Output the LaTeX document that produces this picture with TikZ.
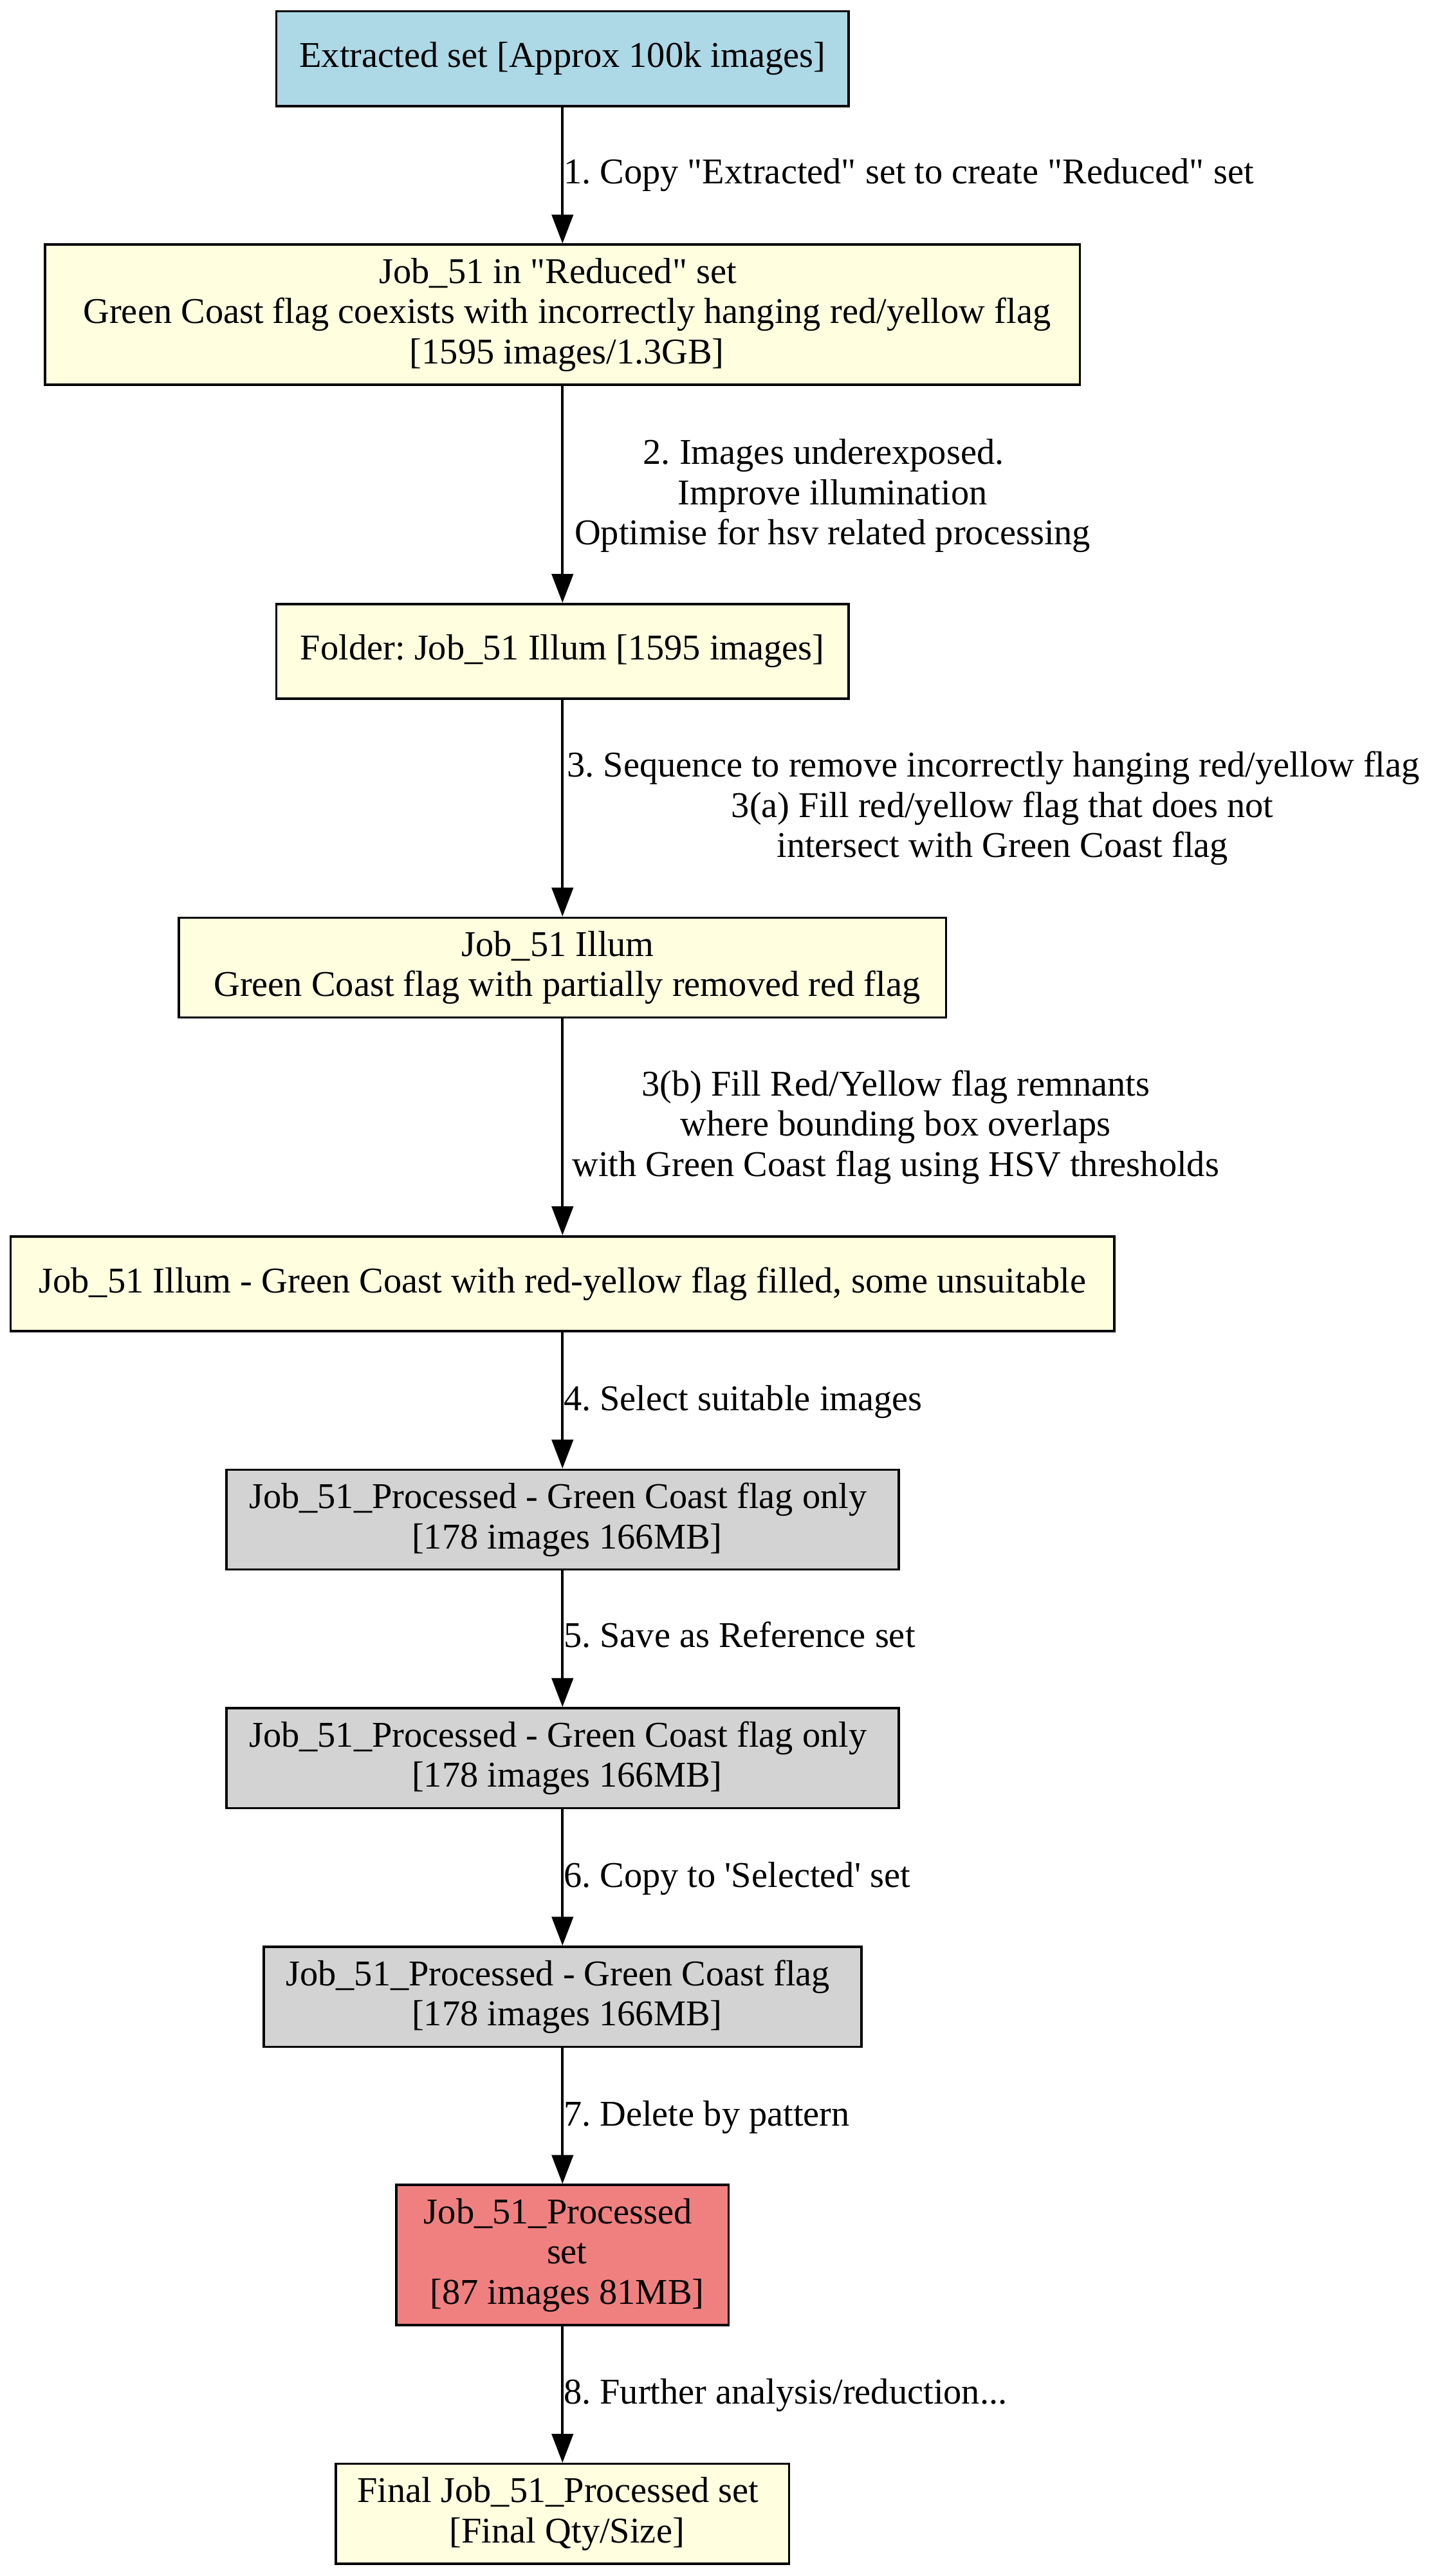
\documentclass[tikz,border=0pt]{standalone}
\usepackage{fontspec}
\newfontfamily\gvfont{Liberation Serif}
\usetikzlibrary{arrows.meta}
\definecolor{gvblue}{HTML}{ADD8E6}
\definecolor{gvyellow}{HTML}{FFFFE0}
\definecolor{gvgrey}{HTML}{D3D3D3}
\definecolor{gvcoral}{HTML}{F08080}
\newcommand{\gsp}{\hspace*{5.5pt}}
\frenchspacing
\begin{document}
\begin{tikzpicture}[x=1pt,y=-1pt,
  font=\gvfont\fontsize{22}{24.4}\selectfont\frenchspacing,
  gvbox/.style={draw=black, line width=1.4pt, inner sep=0pt, align=center},
  oneline/.style={minimum height=57.5pt},
  twoline/.style={minimum height=60.6pt},
  threeline/.style={minimum height=85pt},
  lbl/.style={inner sep=0pt, align=center},
  flow/.style={line width=1.4pt, -{Triangle[length=17.5pt,width=13pt]}}]
\fill[white] (0,0) rectangle (876,1561.7);
\useasboundingbox (0,0) rectangle (876,1561.7);

\node[gvbox, oneline, fill=gvblue, minimum width=347pt] (b1) at (341,35.55)
  {Extracted set [Approx 100k images]};
\node[gvbox, threeline, fill=gvyellow, minimum width=627.2pt] (b2) at (341,190.8)
  {Job\_51 in "Reduced" set\gsp\\\gsp Green Coast flag coexists with incorrectly hanging red/yellow flag\gsp\\\gsp [1595 images/1.3GB]};
\node[gvbox, oneline, fill=gvyellow, minimum width=347pt] (b3) at (341,394.9)
  {Folder: Job\_51 Illum [1595 images]};
\node[gvbox, twoline, fill=gvyellow, minimum width=465.2pt] (b4) at (341,586.6)
  {Job\_51 Illum\gsp\\\gsp Green Coast flag with partially removed red flag};
\node[gvbox, oneline, fill=gvyellow, minimum width=669pt] (b5) at (341,778.3)
  {Job\_51 Illum - Green Coast with red-yellow flag filled, some unsuitable};
\node[gvbox, twoline, fill=gvgrey, minimum width=407.6pt] (b6) at (341,921.25)
  {Job\_51\_Processed - Green Coast flag only\gsp\\\gsp [178 images 166MB]};
\node[gvbox, twoline, fill=gvgrey, minimum width=407.6pt] (b7) at (341,1065.85)
  {Job\_51\_Processed - Green Coast flag only\gsp\\\gsp [178 images 166MB]};
\node[gvbox, twoline, fill=gvgrey, minimum width=362.3pt] (b8) at (341,1210.5)
  {Job\_51\_Processed - Green Coast flag\gsp\\\gsp [178 images 166MB]};
\node[gvbox, threeline, fill=gvcoral, minimum width=201.4pt] (b9) at (341,1367.15)
  {Job\_51\_Processed\gsp\\\gsp set\gsp\\\gsp [87 images 81MB]};
\node[gvbox, twoline, fill=gvyellow, minimum width=274.8pt] (b10) at (341,1524)
  {Final Job\_51\_Processed set\gsp\\\gsp [Final Qty/Size]};

\draw[flow] (b1) -- (b2);
\draw[flow] (b2) -- (b3);
\draw[flow] (b3) -- (b4);
\draw[flow] (b4) -- (b5);
\draw[flow] (b5) -- (b6);
\draw[flow] (b6) -- (b7);
\draw[flow] (b7) -- (b8);
\draw[flow] (b8) -- (b9);
\draw[flow] (b9) -- (b10);

\node[lbl, anchor=base west] (l1) at (341.5,111.4)
  {1. Copy "Extracted" set to create "Reduced" set};
\node[lbl] (l2) at (502,300.6)
  {2. Images underexposed.\gsp\\\gsp Improve illumination\gsp\\\gsp Optimise for hsv related processing};
\node[lbl] (l3) at (605,490.1)
  {3. Sequence to remove incorrectly hanging red/yellow flag\gsp\\\gsp 3(a) Fill red/yellow flag that does not\gsp\\\gsp intersect with Green Coast flag};
\node[lbl] (l3b) at (543,683.3)
  {3(b) Fill Red/Yellow flag remnants\\where bounding box overlaps\\with Green Coast flag using HSV thresholds};
\node[lbl, anchor=base west] (l4) at (341.5,855)
  {4. Select suitable images};
\node[lbl, anchor=base west] (l5) at (341.5,998.7)
  {5. Save as Reference set};
\node[lbl, anchor=base west] (l6) at (341.5,1144)
  {6. Copy to 'Selected' set};
\node[lbl, anchor=base west] (l7) at (341.5,1289)
  {7. Delete by pattern};
\node[lbl, anchor=base west] (l8) at (341.5,1457.5)
  {8. Further analysis/reduction...};
\end{tikzpicture}
\end{document}
